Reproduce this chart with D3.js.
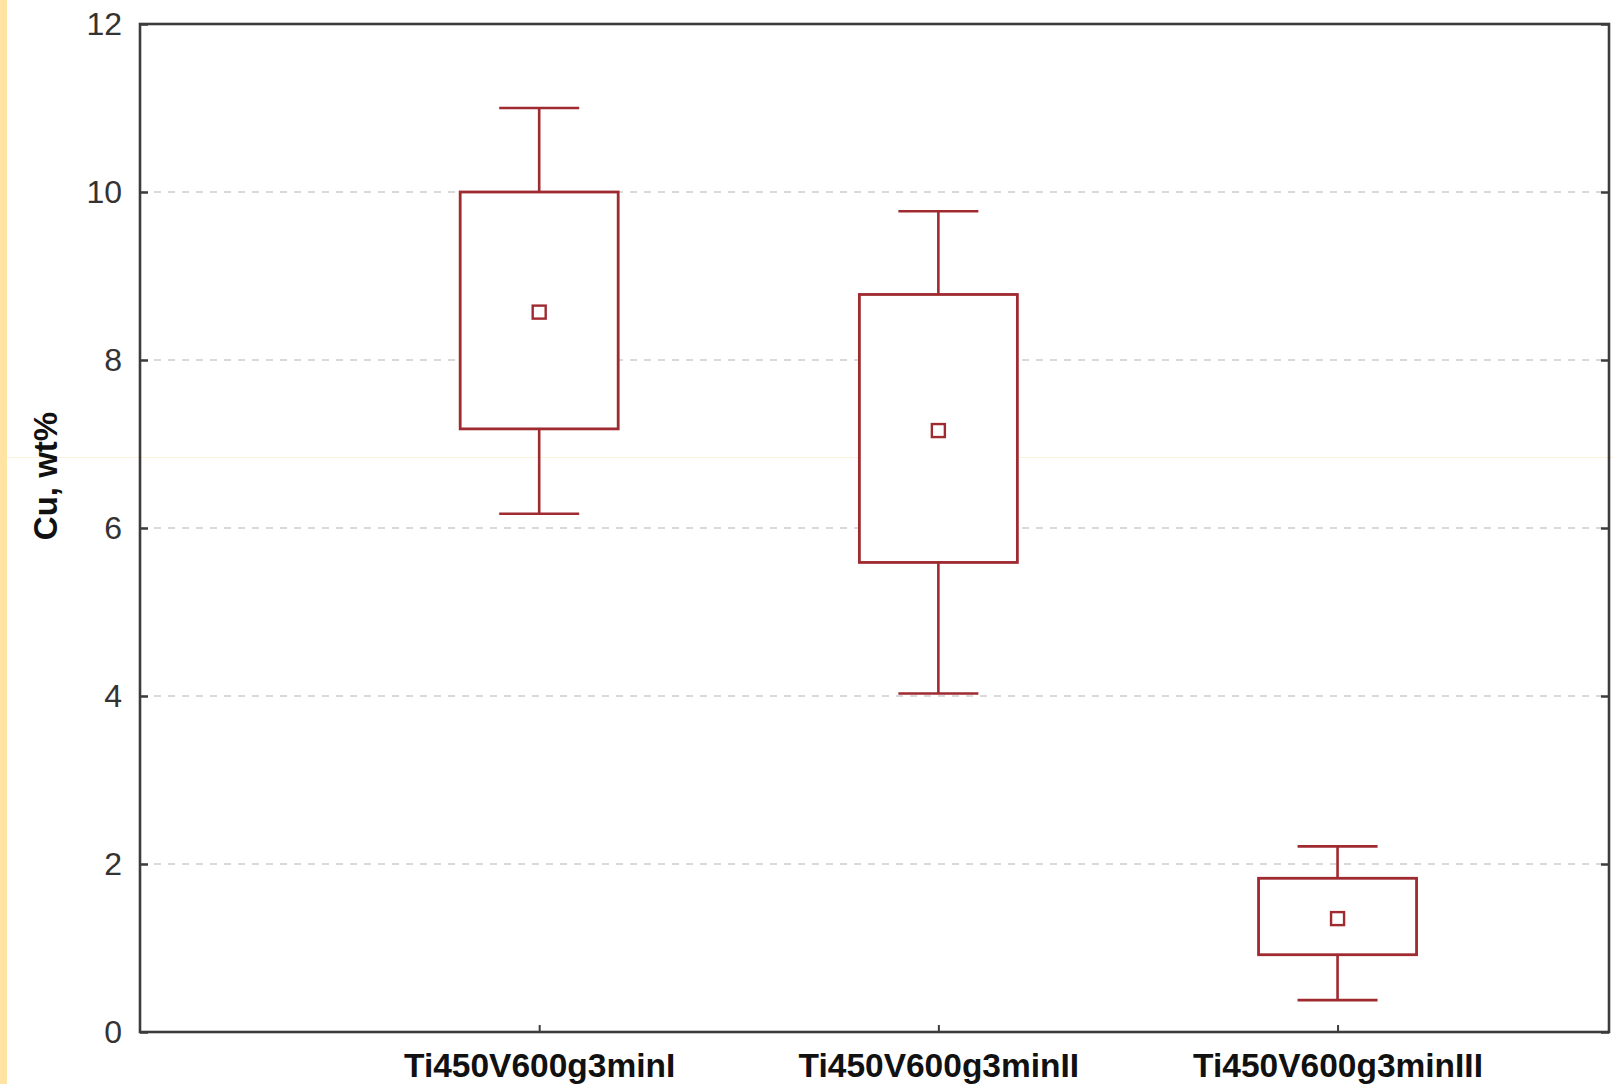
<!DOCTYPE html>
<html>
<head>
<meta charset="utf-8">
<script src="https://cdn.jsdelivr.net/npm/d3@7"></script>
<style>
  html, body { margin: 0; padding: 0; background: #fff; }
  svg { display: block; }
</style>
</head>
<body>
<svg id="chart" width="1614" height="1084"></svg>
<script>
// Cu content (wt%) per sample group: whiskers, box edges and mean
const categories  = ["Ti450V600g3minI", "Ti450V600g3minII", "Ti450V600g3minIII"];
const whiskerLow  = [6.17, 4.03, 0.38];
const boxLow      = [7.18, 5.59, 0.92];
const means       = [8.57, 7.16, 1.35];
const boxHigh     = [10.0, 8.78, 1.83];
const whiskerHigh = [11.0, 9.77, 2.21];
const yTicks      = [0, 2, 4, 6, 8, 10, 12];
const gridTicks   = [2, 4, 6, 8, 10];
const yLabel      = "Cu, wt%";

(function () {
  const rows = categories.map((c, i) => ({
    name: c, pos: i + 1,
    wLo: whiskerLow[i], bLo: boxLow[i], mean: means[i], bHi: boxHigh[i], wHi: whiskerHigh[i]
  }));

  const svg = d3.select("#chart");
  const W = 1614, H = 1084;
  const plotL = 140, plotR = 1609, plotT = 24, plotB = 1032;
  const red = "#9f2a30";
  const frame = "#3c3c3c";
  const font = "'Liberation Sans', Arial, sans-serif";

  const x = d3.scaleLinear().domain([0, 3.68]).range([plotL, plotR]);
  const y = d3.scaleLinear().domain([0, 12]).range([plotB, plotT]);

  // page background and the pale strip along the left edge
  svg.append("rect").attr("width", W).attr("height", H).attr("fill", "#fff");
  svg.append("rect").attr("x", 0).attr("y", 0).attr("width", 7).attr("height", H).attr("fill", "#fee3a2");
  svg.append("line").attr("x1", 7).attr("x2", W).attr("y1", 457.5).attr("y2", 457.5)
    .attr("stroke", "#fcf1da").attr("stroke-width", 1);

  // dashed horizontal grid
  svg.append("g").selectAll("line").data(gridTicks).join("line")
    .attr("x1", plotL).attr("x2", plotR)
    .attr("y1", d => y(d)).attr("y2", d => y(d))
    .attr("stroke", "#cdcdcd").attr("stroke-width", 1.6)
    .attr("stroke-dasharray", "7,7");

  // left axis with inward ticks
  const gy = svg.append("g").attr("transform", `translate(${plotL},0)`)
    .call(d3.axisLeft(y).tickValues(yTicks).tickSize(-8).tickPadding(18).tickFormat(d3.format("d")));
  gy.select(".domain").remove();
  gy.selectAll(".tick line").attr("stroke", frame).attr("stroke-width", 2.5);
  gy.selectAll(".tick text").attr("font-family", font).attr("font-size", 32).attr("fill", "#333");

  // right axis: ticks only
  const gr = svg.append("g").attr("transform", `translate(${plotR},0)`)
    .call(d3.axisRight(y).tickValues(yTicks).tickSize(-8).tickFormat(""));
  gr.select(".domain").remove();
  gr.selectAll(".tick line").attr("stroke", frame).attr("stroke-width", 2.5);

  // bottom axis with category labels
  const gx = svg.append("g").attr("transform", `translate(0,${plotB})`)
    .call(d3.axisBottom(x).tickValues(rows.map(r => r.pos)).tickSize(-7).tickPadding(21)
      .tickFormat(d => categories[d - 1]));
  gx.select(".domain").remove();
  gx.selectAll(".tick line").attr("stroke", frame).attr("stroke-width", 2);
  gx.selectAll(".tick text").attr("font-family", font).attr("font-size", 33.5)
    .attr("font-weight", "bold").attr("fill", "#111");

  // plot frame
  svg.append("rect").attr("x", plotL).attr("y", plotT)
    .attr("width", plotR - plotL).attr("height", plotB - plotT)
    .attr("fill", "none").attr("stroke", frame).attr("stroke-width", 2.6);

  // y axis title
  svg.append("text")
    .attr("transform", `translate(57,476) rotate(-90)`)
    .attr("text-anchor", "middle")
    .attr("font-family", font).attr("font-size", 33).attr("font-weight", "bold")
    .attr("fill", "#111").text(yLabel);

  // box plots
  const boxHalf = 79, capHalf = 40, meanSize = 13;
  const g = svg.append("g").selectAll("g").data(rows).join("g");

  g.append("line").attr("x1", d => x(d.pos)).attr("x2", d => x(d.pos))
    .attr("y1", d => y(d.wHi)).attr("y2", d => y(d.wLo))
    .attr("stroke", red).attr("stroke-width", 2.6);
  g.append("line").attr("x1", d => x(d.pos) - capHalf).attr("x2", d => x(d.pos) + capHalf)
    .attr("y1", d => y(d.wHi)).attr("y2", d => y(d.wHi))
    .attr("stroke", red).attr("stroke-width", 2.6);
  g.append("line").attr("x1", d => x(d.pos) - capHalf).attr("x2", d => x(d.pos) + capHalf)
    .attr("y1", d => y(d.wLo)).attr("y2", d => y(d.wLo))
    .attr("stroke", red).attr("stroke-width", 2.6);
  g.append("rect")
    .attr("x", d => x(d.pos) - boxHalf).attr("width", boxHalf * 2)
    .attr("y", d => y(d.bHi)).attr("height", d => y(d.bLo) - y(d.bHi))
    .attr("fill", "#fff").attr("stroke", red).attr("stroke-width", 2.8);
  g.append("rect")
    .attr("x", d => x(d.pos) - meanSize / 2).attr("y", d => y(d.mean) - meanSize / 2)
    .attr("width", meanSize).attr("height", meanSize)
    .attr("fill", "#fff").attr("stroke", red).attr("stroke-width", 2.4);
})();
</script>
</body>
</html>
